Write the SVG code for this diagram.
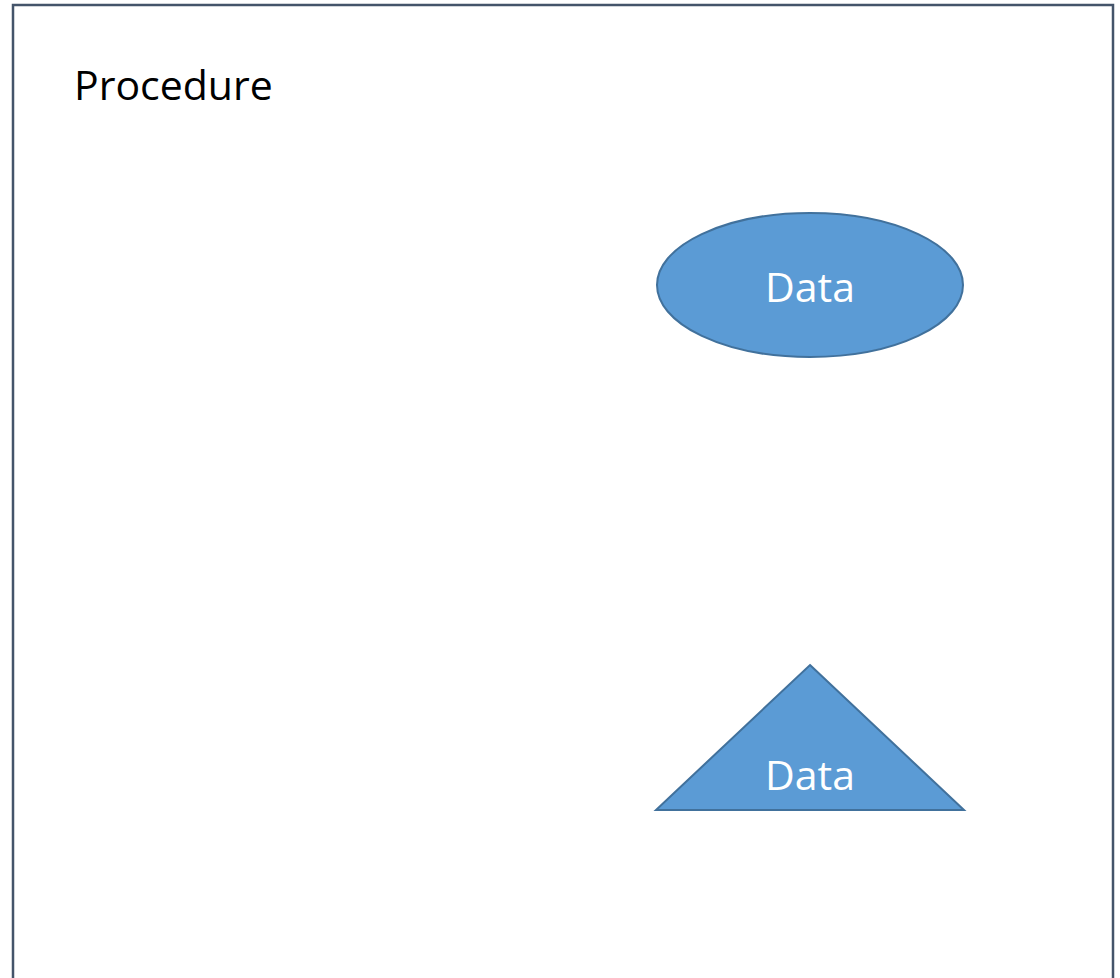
<svg xmlns="http://www.w3.org/2000/svg" width="1120" height="978" viewBox="0 0 1120 978">
  <style>
    .frame { fill: #ffffff; stroke: #44546a; stroke-width: 2.5; }
    .shape { fill: #5b9bd5; stroke: #41719c; stroke-width: 2; }
    .title { font-family: "Open Sans", "Liberation Sans", sans-serif; font-size: 41px; fill: #000000; }
    .label { font-family: "Open Sans", "Liberation Sans", sans-serif; font-size: 41px; fill: #ffffff; text-anchor: middle; }
  </style>
  <rect width="1120" height="978" fill="#ffffff"/>
  <g id="procedure">
    <rect class="frame" x="13" y="5" width="1100" height="990"/>
    <text class="title" x="74" y="100">Procedure</text>
  </g>
  <g id="connectors"></g>
  <g id="data-ellipse">
    <ellipse class="shape" cx="810" cy="285" rx="153" ry="72"/>
    <text class="label" x="810" y="302">Data</text>
  </g>
  <g id="data-triangle">
    <polygon class="shape" points="810,665 964,810 656,810"/>
    <text class="label" x="810" y="790">Data</text>
  </g>
</svg>
